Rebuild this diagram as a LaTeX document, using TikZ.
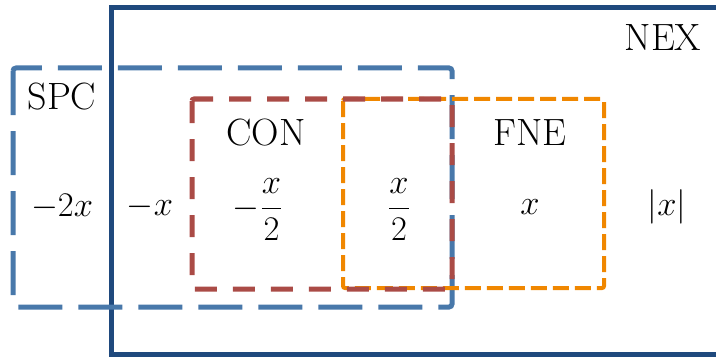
\documentclass[tikz,border=0pt]{standalone}
\usepackage{amsmath}
\usepackage{tikz}
\usetikzlibrary{positioning}

\begin{document}
\begin{tikzpicture}[x=0.5pt, y=-0.5pt,
    lbl/.style={font=\fontsize{19}{21}\selectfont, inner sep=0pt},
    nexbox/.style={draw=nexblue, line width=2.5pt},
    spcbox/.style={draw=spcblue, line width=2.5pt, dash pattern=on 22pt off 8pt, rounded corners=1.5pt},
    conbox/.style={draw=conred, line width=2.5pt, dash pattern=on 11pt off 8pt, rounded corners=1pt},
    fnebox/.style={draw=fneorange, line width=2pt, dash pattern=on 8pt off 3pt, rounded corners=1pt}]
  % Define colors
  \definecolor{nexblue}{RGB}{31,73,125}
  \definecolor{spcblue}{RGB}{72,120,170}
  \definecolor{conred}{RGB}{170,75,70}
  \definecolor{fneorange}{RGB}{240,135,0}

  \clip (0,0) rectangle (716,358);

  % Sets
  \draw[nexbox] (111,8) rectangle (740,354);
  \draw[spcbox] (13,68) rectangle (452,307);
  \draw[fnebox] (343,99) rectangle (604,288);
  \draw[conbox] (192,99) rectangle (452,289);

  % Set names
  \node[lbl] (nex) at (663,38) {NEX};
  \node[lbl] (spc) at (62,97) {SPC};
  \node[lbl] (con) at (266,133) {CON};
  \node[lbl] (fne) at (530,133) {FNE};

  % Values
  \node[lbl] (v1) at (62,207) {$-2x$};
  \node[lbl] (v2) at (150,207) {$-x$};
  \node[lbl] (v3) at (258,210) {$-\dfrac{x}{2}$};
  \node[lbl] (v4) at (399,210) {$\dfrac{x}{2}$};
  \node[lbl] (v5) at (530,207) {$x$};
  \node[lbl] (v6) at (667,207) {$|x|$};
\end{tikzpicture}
\end{document}
